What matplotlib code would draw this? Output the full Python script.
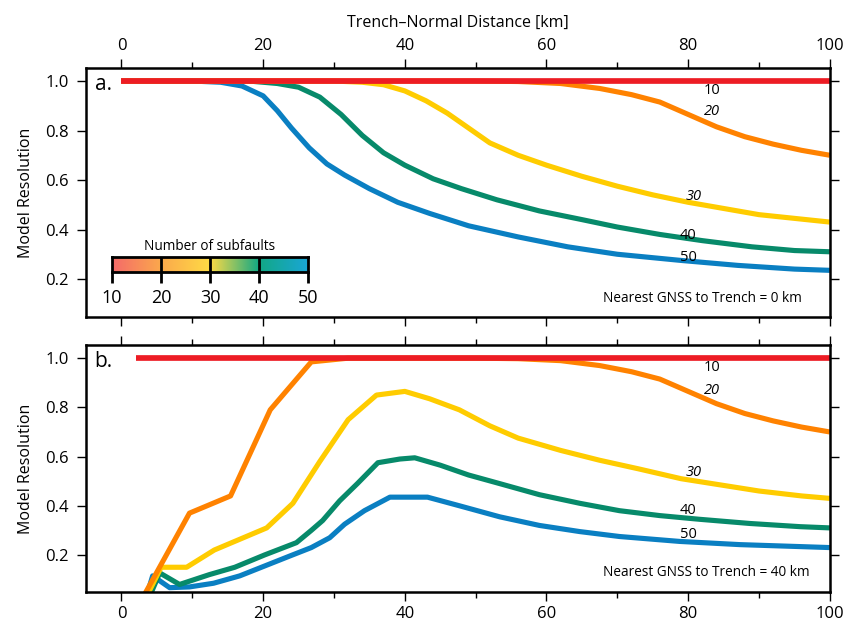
import matplotlib
matplotlib.use("Agg")
import matplotlib.pyplot as plt
import numpy as np
from matplotlib.colors import LinearSegmentedColormap
from matplotlib.ticker import MultipleLocator, FormatStrFormatter

plt.rcParams["font.family"] = ["Open Sans", "DejaVu Sans"]

# values
# panel a: nearest GNSS to trench = 0 km
x10_a = [0, 100]
r10_a = [1.0, 1.0]
x20_a = [0, 50, 56, 62, 67.5, 72, 76, 80, 84, 88, 92, 96, 100]
r20_a = [1.0, 1.0, 0.998, 0.99, 0.97, 0.945, 0.915, 0.865, 0.815, 0.775, 0.745, 0.72, 0.70]
x30_a = [0, 30, 34, 37, 40, 43, 46, 49, 52, 56, 60, 65, 70, 75, 80, 85, 90, 95, 100]
r30_a = [1.0, 1.0, 0.995, 0.985, 0.96, 0.92, 0.87, 0.81, 0.75, 0.70, 0.66, 0.615, 0.575,
         0.54, 0.51, 0.485, 0.46, 0.445, 0.43]
x40_a = [0, 18, 22, 25, 28, 31, 34, 37, 40, 44, 48, 53, 59, 65, 70, 76, 82, 89, 95, 100]
r40_a = [1.0, 1.0, 0.99, 0.975, 0.935, 0.865, 0.78, 0.71, 0.66, 0.605, 0.565, 0.52, 0.475,
         0.44, 0.41, 0.38, 0.355, 0.33, 0.315, 0.31]
x50_a = [0, 10, 14, 17, 20, 22, 24, 26.5, 29, 31.5, 35, 39, 43.5, 49, 56, 63, 70, 79, 87, 95, 100]
r50_a = [1.0, 1.0, 0.995, 0.98, 0.94, 0.88, 0.81, 0.73, 0.665, 0.62, 0.565, 0.51, 0.465,
         0.415, 0.37, 0.33, 0.30, 0.275, 0.255, 0.24, 0.235]

# panel b: nearest GNSS to trench = 40 km
x10_b = [2, 100]
r10_b = [1.0, 1.0]
x20_b = [2.5, 9.6, 15.4, 21.0, 26.8, 32, 50, 56, 62, 67.5, 72, 76, 80, 84, 88, 92, 96, 100]
r20_b = [0.0, 0.37, 0.44, 0.79, 0.985, 1.0, 1.0, 0.998, 0.99, 0.97, 0.945, 0.915, 0.865,
         0.815, 0.775, 0.745, 0.72, 0.70]
x30_b = [3, 5.6, 9.2, 13.1, 20.5, 24.2, 28, 32, 36, 40, 43.5, 47.7, 52, 56, 62, 67.5, 73,
         79, 84.5, 90, 96, 100]
r30_b = [0.0, 0.15, 0.15, 0.22, 0.31, 0.41, 0.58, 0.75, 0.85, 0.865, 0.835, 0.79, 0.725,
         0.675, 0.625, 0.585, 0.55, 0.51, 0.485, 0.46, 0.44, 0.43]
x40_b = [3.5, 5.4, 8.2, 12.4, 16, 20.2, 24.7, 26.8, 28.4, 30.8, 33.3, 36.2, 39.3, 41.4, 45,
         49, 53.4, 59, 64.7, 70.3, 76, 81.6, 88.7, 95.8, 100]
r40_b = [0.0, 0.127, 0.08, 0.12, 0.15, 0.2, 0.25, 0.30, 0.34, 0.42, 0.49, 0.575, 0.59, 0.595,
         0.565, 0.525, 0.49, 0.445, 0.41, 0.38, 0.36, 0.345, 0.328, 0.315, 0.31]
x50_b = [3.2, 4.4, 6.8, 9.6, 13, 16.7, 20.2, 23.7, 26.8, 29.4, 31.5, 34.3, 37.9, 40, 43.2,
         47.7, 53.4, 59, 64.7, 70.3, 78.8, 87.3, 95.8, 100]
r50_b = [0.0, 0.115, 0.067, 0.07, 0.085, 0.115, 0.155, 0.195, 0.23, 0.27, 0.325, 0.38, 0.435,
         0.435, 0.435, 0.40, 0.355, 0.32, 0.295, 0.275, 0.255, 0.242, 0.234, 0.23]

subfaults = [10, 20, 30, 40, 50]
line_colors = ["#ED1C24", "#FF8200", "#FFCC00", "#078A6A", "#0A7FC2"]
cbar_colors = ["#F46A6A", "#FBA94C", "#FFDB45", "#12A884", "#1AA6D6"]

# label positions (km, resolution) for the in-line subfault labels
lab_a = [(83.3, 0.963), (83.3, 0.875), (80.8, 0.533), (80.0, 0.377), (80.0, 0.288)]
lab_b = [(83.3, 0.963), (83.3, 0.867), (80.8, 0.537), (80.0, 0.38), (80.0, 0.285)]

panels = [
    ([x10_a, x20_a, x30_a, x40_a, x50_a], [r10_a, r20_a, r30_a, r40_a, r50_a], lab_a,
     "a.", "Nearest GNSS to Trench = 0 km", 96.0, 0.123),
    ([x10_b, x20_b, x30_b, x40_b, x50_b], [r10_b, r20_b, r30_b, r40_b, r50_b], lab_b,
     "b.", "Nearest GNSS to Trench = 40 km", 97.2, 0.127),
]

fig = plt.figure(figsize=(8.52, 6.23), dpi=100)
ax_a = fig.add_axes([0.101, 0.491, 0.873, 0.400])
ax_b = fig.add_axes([0.101, 0.050, 0.873, 0.396])

for ax, (xs, ys, labs, tag, note, nx, ny), top in zip([ax_a, ax_b], panels, [True, False]):
    # draw high subfault counts first so the red line ends up on top
    for i, (xv, yv, c) in reversed(list(enumerate(zip(xs, ys, line_colors)))):
        ax.plot(xv, yv, color=c, lw=4.1 if i == 0 else 3.7,
                solid_capstyle="butt", solid_joinstyle="round")
    for n, (lx, ly) in zip(subfaults, labs):
        ax.text(lx, ly, str(n), fontsize=10.5, ha="center", va="center",
                style="italic" if n in (20, 30) else "normal")

    ax.set_xlim(-5, 100)
    ax.set_ylim(0.05 if not top else 0.046, 1.053)
    ax.xaxis.set_major_locator(MultipleLocator(20))
    ax.xaxis.set_minor_locator(MultipleLocator(10))
    ax.yaxis.set_major_locator(MultipleLocator(0.2))
    ax.yaxis.set_major_formatter(FormatStrFormatter("%.1f"))
    ax.tick_params(which="both", direction="out", top=True, right=True, width=1.0,
                   labelsize=12, labeltop=top, labelbottom=not top)
    ax.tick_params(which="major", length=6.5)
    ax.tick_params(which="minor", length=4)
    ax.tick_params(axis="y", pad=6)
    for s in ax.spines.values():
        s.set_linewidth(1.8)
    ax.set_ylabel("Model Resolution", fontsize=11.5, labelpad=8)
    ax.text(-3.8, 0.985, tag, fontsize=15, ha="left", va="center")
    ax.text(nx, ny, note, fontsize=9.8, ha="right", va="center")

ax_a.xaxis.set_label_position("top")
ax_a.set_xlabel("Trench\u2013Normal Distance [km]", fontsize=11.5, labelpad=8)

# colour scale inset for number of subfaults
cmap = LinearSegmentedColormap.from_list(
    "subf", [((v - 10) / 40, c) for v, c in zip(subfaults, cbar_colors)])
cax = fig.add_axes([0.1315, 0.5634, 0.230, 0.024])
grad = np.linspace(10, 50, 256).reshape(1, -1)
cax.imshow(grad, cmap=cmap, aspect="auto", extent=[10, 50, 0, 1])
for v in subfaults[1:-1]:
    cax.axvline(v, color="black", lw=2)
cax.set_xlim(10, 50)
cax.set_yticks([])
cax.set_xticks(subfaults)
cax.tick_params(axis="x", direction="out", length=8, width=2, labelsize=13, pad=4)
for s in cax.spines.values():
    s.set_linewidth(2)
cax.set_title("Number of subfaults", fontsize=9.8, pad=5)

fig.savefig("out.png", dpi=100)
